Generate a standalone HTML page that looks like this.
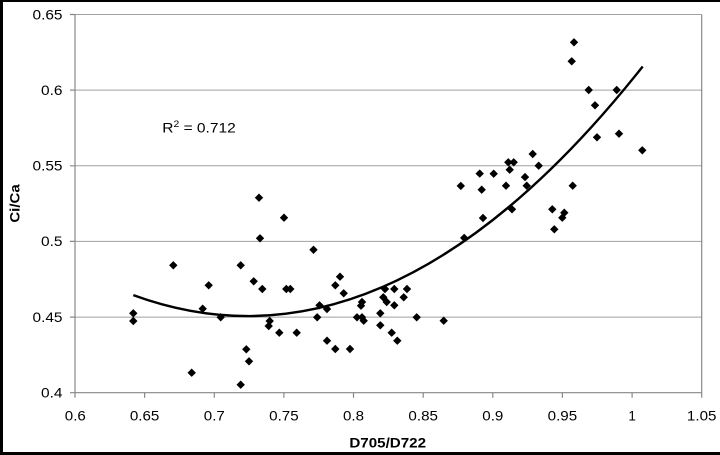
<!DOCTYPE html>
<html><head><meta charset="utf-8"><style>
html,body{margin:0;padding:0;background:#fff;}
svg{display:block;}
text{font-family:"Liberation Sans",Arial,sans-serif;fill:#000;}
</style></head><body>
<svg width="720" height="455" viewBox="0 0 720 455" xmlns="http://www.w3.org/2000/svg">
<defs>
<marker id="d" markerUnits="userSpaceOnUse" markerWidth="10" markerHeight="10" refX="5" refY="5" overflow="visible">
<path d="M5 0.8 L9.2 5 L5 9.2 L0.8 5 Z" fill="#000"/>
</marker>
</defs>
<rect x="0" y="0" width="720" height="455" fill="#fff"/>
<rect x="0" y="0" width="720" height="2" fill="#000"/>
<rect x="0" y="0" width="3" height="455" fill="#000"/>
<rect x="0" y="452" width="720" height="3" fill="#000"/>
<g stroke="#a0a0a0" stroke-width="1" fill="none">
<path d="M75 14.5H701.7M75 90.1H701.7M75 165.8H701.7M75 241.4H701.7M75 317.1H701.7"/>
</g>
<g stroke="#888" stroke-width="1.2" fill="none">
<path d="M75 14.5V392.7M701.7 14.5V392.7M75 392.7H701.7"/>
<path d="M70 14.5H75M70 90.1H75M70 165.8H75M70 241.4H75M70 317.1H75M70 392.7H75"/>
<path d="M75 392.7V397.7M144.6 392.7V397.7M214.3 392.7V397.7M283.9 392.7V397.7M353.5 392.7V397.7M423.2 392.7V397.7M492.8 392.7V397.7M562.4 392.7V397.7M632.1 392.7V397.7M701.7 392.7V397.7"/>
</g>
<g font-size="13.5" text-anchor="end">
<text x="62.5" y="19.3" textLength="30" lengthAdjust="spacingAndGlyphs">0.65</text>
<text x="62.5" y="94.9" textLength="21.5" lengthAdjust="spacingAndGlyphs">0.6</text>
<text x="62.5" y="170.6" textLength="30" lengthAdjust="spacingAndGlyphs">0.55</text>
<text x="62.5" y="246.2" textLength="21.5" lengthAdjust="spacingAndGlyphs">0.5</text>
<text x="62.5" y="321.9" textLength="30" lengthAdjust="spacingAndGlyphs">0.45</text>
<text x="62.5" y="397.5" textLength="21.5" lengthAdjust="spacingAndGlyphs">0.4</text>
</g>
<g font-size="13.5" text-anchor="middle">
<text x="75.3" y="420.6" textLength="21" lengthAdjust="spacingAndGlyphs">0.6</text>
<text x="144.6" y="420.6" textLength="29.5" lengthAdjust="spacingAndGlyphs">0.65</text>
<text x="214.3" y="420.6" textLength="21" lengthAdjust="spacingAndGlyphs">0.7</text>
<text x="283.9" y="420.6" textLength="29.5" lengthAdjust="spacingAndGlyphs">0.75</text>
<text x="353.5" y="420.6" textLength="21" lengthAdjust="spacingAndGlyphs">0.8</text>
<text x="423.2" y="420.6" textLength="29.5" lengthAdjust="spacingAndGlyphs">0.85</text>
<text x="492.8" y="420.6" textLength="21" lengthAdjust="spacingAndGlyphs">0.9</text>
<text x="562.4" y="420.6" textLength="29.5" lengthAdjust="spacingAndGlyphs">0.95</text>
<text x="632.1" y="420.6">1</text>
<text x="701.7" y="420.6" textLength="29.5" lengthAdjust="spacingAndGlyphs">1.05</text>
</g>
<text x="387.7" y="447.7" font-size="14" font-weight="bold" text-anchor="middle" textLength="76.7" lengthAdjust="spacingAndGlyphs">D705/D722</text>
<text transform="translate(19.3,203.5) rotate(-90)" x="0" y="0" font-size="14" font-weight="bold" text-anchor="middle" textLength="38.3" lengthAdjust="spacingAndGlyphs">Ci/Ca</text>
<text transform="translate(162.3,132.3) scale(1.15,1)" font-size="13.5" x="0" y="0">R<tspan font-size="9" dy="-5.5">2</tspan><tspan dy="5.5"> = 0.712</tspan></text>
<path d="M133.3,295.1 Q388,388.4 642.7,66.5" fill="none" stroke="#000" stroke-width="2.4"/>
<path fill="none" stroke="none" marker-start="url(#d)" marker-mid="url(#d)" marker-end="url(#d)" d="M133.3 313.3 L133.3 321 L173.3 265.3 L191.7 372.7 L202.7 308.7 L208.7 285.3 L220.7 317.3 L240.7 265.3 L240.7 384.7 L246.3 349.3 L249 361.3 L253.7 281.3 L259 197.7 L260 238.3 L262.3 289 L268.7 326 L269.7 321 L279.3 332.7 L284 217.7 L286.3 289 L290.3 289 L296.7 332.7 L313.5 249.8 L317.2 317.3 L319.5 305.3 L327 309 L327 340.7 L335.3 285.3 L335.3 349 L340 276.7 L343.7 293.3 L350 349 L357 317.3 L361 305.7 L362 302 L362 317.3 L363.7 320.7 L380.3 313.3 L380.3 325.3 L383.3 297.3 L385 289 L386.7 302 L391.7 332.7 L394.3 289 L394.3 305.3 L397.3 340.7 L403.7 297.3 L407 289 L416.7 317.3 L443.7 320.7 L460.8 185.9 L464.2 237.9 L479.7 173.6 L481.7 189.7 L483 218 L493.7 173.7 L506 185.7 L508.3 162.3 L509.7 169.7 L512 209.3 L513.7 162.3 L525 177.1 L526.7 185.7 L532.7 154 L538.7 165.7 L552.3 209.3 L554.3 229.3 L562.3 217.7 L564.3 212.7 L571.7 61.3 L572.7 185.7 L574 42.3 L588.7 90 L595 105.3 L597 137.3 L616.7 90 L619 133.7 L642.3 150.3"/>
</svg>
</body></html>
